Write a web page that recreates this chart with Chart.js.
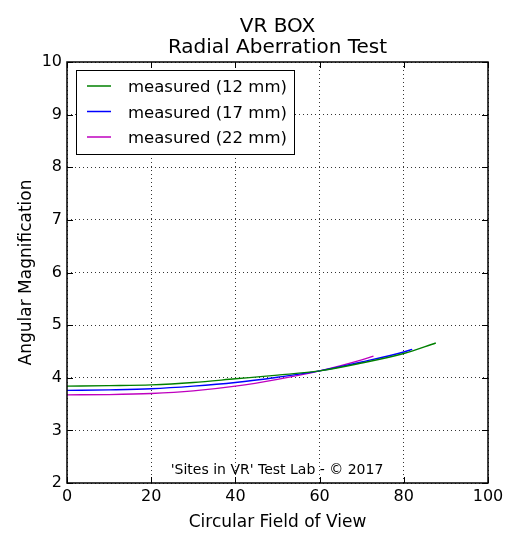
<!DOCTYPE html>
<html>
<head>
<meta charset="utf-8">
<script src="https://cdn.jsdelivr.net/npm/chart.js@4/dist/chart.umd.min.js"></script>
<style>
  html, body { margin: 0; padding: 0; background: #fff; }
  #wrap { width: 520px; height: 549px; }
</style>
</head>
<body>
<div id="wrap"><canvas id="myChart" width="520" height="549"></canvas></div>
<script>
// datos
const fov12 = [0, 10, 20, 30, 40, 50, 60, 70, 80, 87.6];
const mag12 = [3.84, 3.85, 3.865, 3.91, 3.98, 4.05, 4.13, 4.28, 4.46, 4.66];
const fov17 = [0, 10, 20, 30, 40, 50, 60, 70, 80, 82];
const mag17 = [3.76, 3.77, 3.79, 3.84, 3.91, 4.01, 4.13, 4.30, 4.49, 4.54];
const fov22 = [0, 10, 20, 30, 40, 50, 60, 70, 72.8];
const mag22 = [3.675, 3.68, 3.70, 3.75, 3.84, 3.97, 4.13, 4.34, 4.41];
const seriesLabels = ["measured (12 mm)", "measured (17 mm)", "measured (22 mm)"];
const seriesColors = ["#008000", "#0000ff", "#bf00bf"];
const xTicks = [0, 20, 40, 60, 80, 100];
const yTicks = [2, 3, 4, 5, 6, 7, 8, 9, 10];
const titleLines = ["VR BOX", "Radial Aberration Test"];
const footnote = "'Sites in VR' Test Lab - \u00a9 2017";

const FONT = "'DejaVu Sans', sans-serif";

function toPoints(xs, ys) {
  return xs.map((x, i) => ({ x: x, y: ys[i] }));
}

// Plugin: título, marco, marcas interiores, leyenda y nota
const decorPlugin = {
  id: "decor",
  afterDraw(chart) {
    const c = chart.ctx;
    const a = chart.chartArea;
    const xs = chart.scales.x, ys = chart.scales.y;
    c.save();

    // título
    c.fillStyle = "#000";
    c.font = "20px " + FONT;
    c.textAlign = "center";
    c.textBaseline = "middle";
    const cx = (a.left + a.right) / 2;
    c.fillText(titleLines[0], cx, 27);
    c.fillText(titleLines[1], cx, 48);

    // marcas hacia dentro
    c.strokeStyle = "#000";
    c.lineWidth = 1;
    c.beginPath();
    xTicks.forEach(v => {
      const px = Math.round(xs.getPixelForValue(v)) + 0.5;
      c.moveTo(px, a.bottom); c.lineTo(px, a.bottom - 6);
      c.moveTo(px, a.top); c.lineTo(px, a.top + 6);
    });
    yTicks.forEach(v => {
      const py = Math.round(ys.getPixelForValue(v)) + 0.5;
      c.moveTo(a.left, py); c.lineTo(a.left + 6, py);
      c.moveTo(a.right, py); c.lineTo(a.right - 6, py);
    });
    c.stroke();

    // marco
    c.lineWidth = 1.5;
    c.strokeRect(a.left, a.top, a.right - a.left, a.bottom - a.top);

    // leyenda
    const lx = a.left + 9, ly = a.top + 8, lw = 218, lh = 84;
    c.fillStyle = "#fff";
    c.fillRect(lx, ly, lw, lh);
    c.lineWidth = 1;
    c.strokeStyle = "#000";
    c.strokeRect(lx + 0.5, ly + 0.5, lw, lh);
    c.font = "16.5px " + FONT;
    c.textAlign = "left";
    c.textBaseline = "middle";
    seriesLabels.forEach((lab, i) => {
      const ry = ly + 16 + i * 25.5;
      c.setLineDash([]);
      c.lineWidth = 1.5;
      c.strokeStyle = seriesColors[i];
      c.beginPath();
      c.moveTo(lx + 11, ry);
      c.lineTo(lx + 35, ry);
      c.stroke();
      c.fillStyle = "#000";
      c.fillText(lab, lx + 52, ry + 2);
    });

    // nota
    c.font = "14px " + FONT;
    c.textAlign = "center";
    c.fillStyle = "#000";
    c.fillText(footnote, 277, 470);
    c.restore();
  }
};

const ctx = document.getElementById("myChart").getContext("2d");
new Chart(ctx, {
  type: "scatter",
  data: {
    datasets: [
      { label: seriesLabels[0], data: toPoints(fov12, mag12), borderColor: seriesColors[0] },
      { label: seriesLabels[1], data: toPoints(fov17, mag17), borderColor: seriesColors[1] },
      { label: seriesLabels[2], data: toPoints(fov22, mag22), borderColor: seriesColors[2] },
    ].map(d => Object.assign(d, {
      showLine: true, pointRadius: 0, borderWidth: 1.4, tension: 0.4, cubicInterpolationMode: "monotone", fill: false
    })),
  },
  options: {
    responsive: false,
    animation: false,
    devicePixelRatio: 1,
    layout: { padding: { left: 0, top: 62, right: 32, bottom: 0 } },
    plugins: { legend: { display: false }, tooltip: { enabled: false }, title: { display: false } },
    scales: {
      x: {
        type: "linear", min: 0, max: 100,
        afterFit: s => { s.height = 66; },
        afterBuildTicks: s => { s.ticks = xTicks.map(v => ({ value: v })); },
        ticks: { color: "#000", font: { family: FONT, size: 16 }, padding: 4, maxRotation: 0 },
        grid: { color: "#000", lineWidth: 0.8, tickLength: 0 },
        border: { display: false, dash: [1, 3] },
        title: { display: true, text: "Circular Field of View", color: "#000", font: { family: FONT, size: 17 }, padding: { top: 4, bottom: 16 } },
      },
      y: {
        type: "linear", min: 2, max: 10,
        afterFit: s => { s.width = 67; },
        afterBuildTicks: s => { s.ticks = yTicks.map(v => ({ value: v })); },
        ticks: { color: "#000", font: { family: FONT, size: 16 }, padding: 5 },
        grid: { color: "#000", lineWidth: 0.8, tickLength: 0 },
        border: { display: false, dash: [1, 3] },
        title: { display: true, text: "Angular Magnification", color: "#000", font: { family: FONT, size: 17 }, padding: { top: 16, bottom: 4 } },
      },
    },
  },
  plugins: [decorPlugin],
});
</script>
</body>
</html>
